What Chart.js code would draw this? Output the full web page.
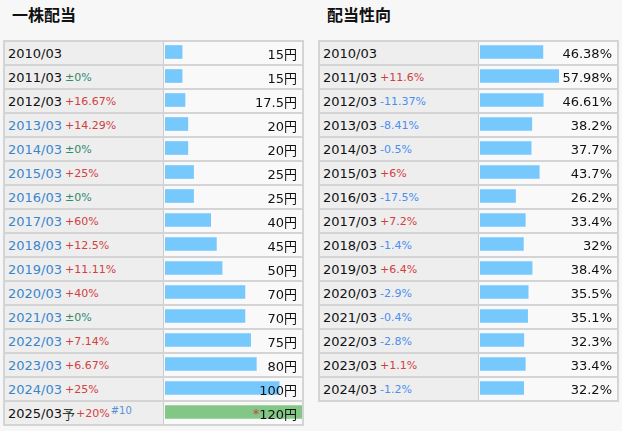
<!DOCTYPE html>
<html>
<head>
<meta charset="utf-8">
<script src="https://cdn.jsdelivr.net/npm/chart.js@4.4.1/dist/chart.umd.min.js"></script>
<style>
  body { margin: 0; background: #f7f7f7; font-family: "DejaVu Sans", "Noto Sans CJK JP", sans-serif; }
  .title { position: absolute; top: 2px; font: bold 16px "Noto Sans CJK JP", sans-serif; color: #111; }
  .tbl { position: absolute; top: 40px; box-sizing: border-box; border: 2px solid #d4d4d4; }
  .row { display: flex; height: 24px; box-sizing: border-box; border-bottom: 2px solid #d4d4d4; background: #f9f9f9; }
  .row:last-child { height: 22px; border-bottom: none; }
  .lab { width: 159px; box-sizing: border-box; border-right: 1px solid #cccccc; background: #eeeeee;
         padding-left: 3px; display: flex; align-items: center; font-size: 13px; color: #111; white-space: nowrap; }
  .val { width: 137px; box-sizing: border-box; display: flex; align-items: center;
         justify-content: flex-end; padding-right: 4px; font-size: 13px; color: #111; position: relative; z-index: 2; }
  .chg { font-size: 11px; margin-left: 3px; }
  .up { color: #d2403f; }
  .zero { color: #2e8a6c; }
  .down { color: #4a8ff0; }
  .link { color: #3a86cc; }
  sup { font-size: 10px; color: #5a8fd8; position: relative; top: -3px; margin-left: 1px; }
  canvas { position: absolute; z-index: 1; pointer-events: none; }
</style>
</head>
<body>
<div class="title" style="left:12px">一株配当</div>
<div class="title" style="left:327px">配当性向</div>
<div class="tbl" id="divTbl" style="left:3px; width:301px"></div>
<div class="tbl" id="payTbl" style="left:318px; width:301px"></div>
<canvas id="divChart" style="left:165px; top:40px"></canvas>
<canvas id="payChart" style="left:480px; top:40px"></canvas>
<script>
// 一株配当
const divYears = ['2010/03', '2011/03', '2012/03', '2013/03', '2014/03', '2015/03', '2016/03', '2017/03',
  '2018/03', '2019/03', '2020/03', '2021/03', '2022/03', '2023/03', '2024/03', '2025/03']
const divValues = [15, 15, 17.5, 20, 20, 25, 25, 40, 45, 50, 70, 70, 75, 80, 100, 120]
const divChanges = ['', '±0%', '+16.67%', '+14.29%', '±0%', '+25%', '±0%', '+60%',
  '+12.5%', '+11.11%', '+40%', '±0%', '+7.14%', '+6.67%', '+25%', '+20%']

// 配当性向
const payYears = ['2010/03', '2011/03', '2012/03', '2013/03', '2014/03', '2015/03', '2016/03', '2017/03',
  '2018/03', '2019/03', '2020/03', '2021/03', '2022/03', '2023/03', '2024/03']
const payValues = [46.38, 57.98, 46.61, 38.2, 37.7, 43.7, 26.2, 33.4, 32, 38.4, 35.5, 35.1, 32.3, 33.4, 32.2]
const payChanges = ['', '+11.6%', '-11.37%', '-8.41%', '-0.5%', '+6%', '-17.5%', '+7.2%',
  '-1.4%', '+6.4%', '-2.9%', '-0.4%', '-2.8%', '+1.1%', '-1.2%']

function chgClass(c) {
  if (c.startsWith('+')) return 'up'
  if (c.startsWith('±')) return 'zero'
  return 'down'
}

function buildRows(el, years, values, changes, unit, opts) {
  let html = ''
  years.forEach((y, i) => {
    const last = opts.forecast && i === years.length - 1
    const yCls = (opts.linkFrom != null && i >= opts.linkFrom && !last) ? 'link' : ''
    let lab = `<span class="${yCls}">${y}</span>`
    if (last) lab += '<span style="color:#2f3f2f">予</span>'
    if (changes[i]) lab += `<span class="chg ${chgClass(changes[i])}"${last ? ' style="margin-left:1px"' : ''}>${changes[i]}</span>`
    if (last) lab += '<sup>#10</sup>'
    const val = (last ? '<span class="up">*</span>' : '') + values[i] + unit
    html += `<div class="row"><div class="lab">${lab}</div><div class="val">${val}</div></div>`
  })
  el.innerHTML = html
}

buildRows(document.getElementById('divTbl'), divYears, divValues, divChanges, '円', { linkFrom: 3, forecast: true })
buildRows(document.getElementById('payTbl'), payYears, payValues, payChanges, '%', {})

function barChart(id, labels, values, max, colors) {
  const canvas = document.getElementById(id)
  canvas.width = 137
  canvas.height = labels.length * 24
  return new Chart(canvas, {
    type: 'bar',
    data: {
      labels: labels,
      datasets: [{
        data: values,
        backgroundColor: colors,
        barThickness: 13,
        borderWidth: 0
      }]
    },
    options: {
      indexAxis: 'y',
      responsive: false,
      animation: false,
      devicePixelRatio: 1,
      layout: { padding: 0 },
      scales: {
        x: { display: false, min: 0, max: max },
        y: { display: false }
      },
      plugins: {
        legend: { display: false },
        tooltip: { enabled: false }
      }
    }
  })
}

barChart('divChart', divYears, divValues, 120,
  divValues.map((v, i) => i === divValues.length - 1 ? '#82c785' : '#77c8fd'))
barChart('payChart', payYears, payValues, 101, '#77c8fd')
</script>
</body>
</html>
